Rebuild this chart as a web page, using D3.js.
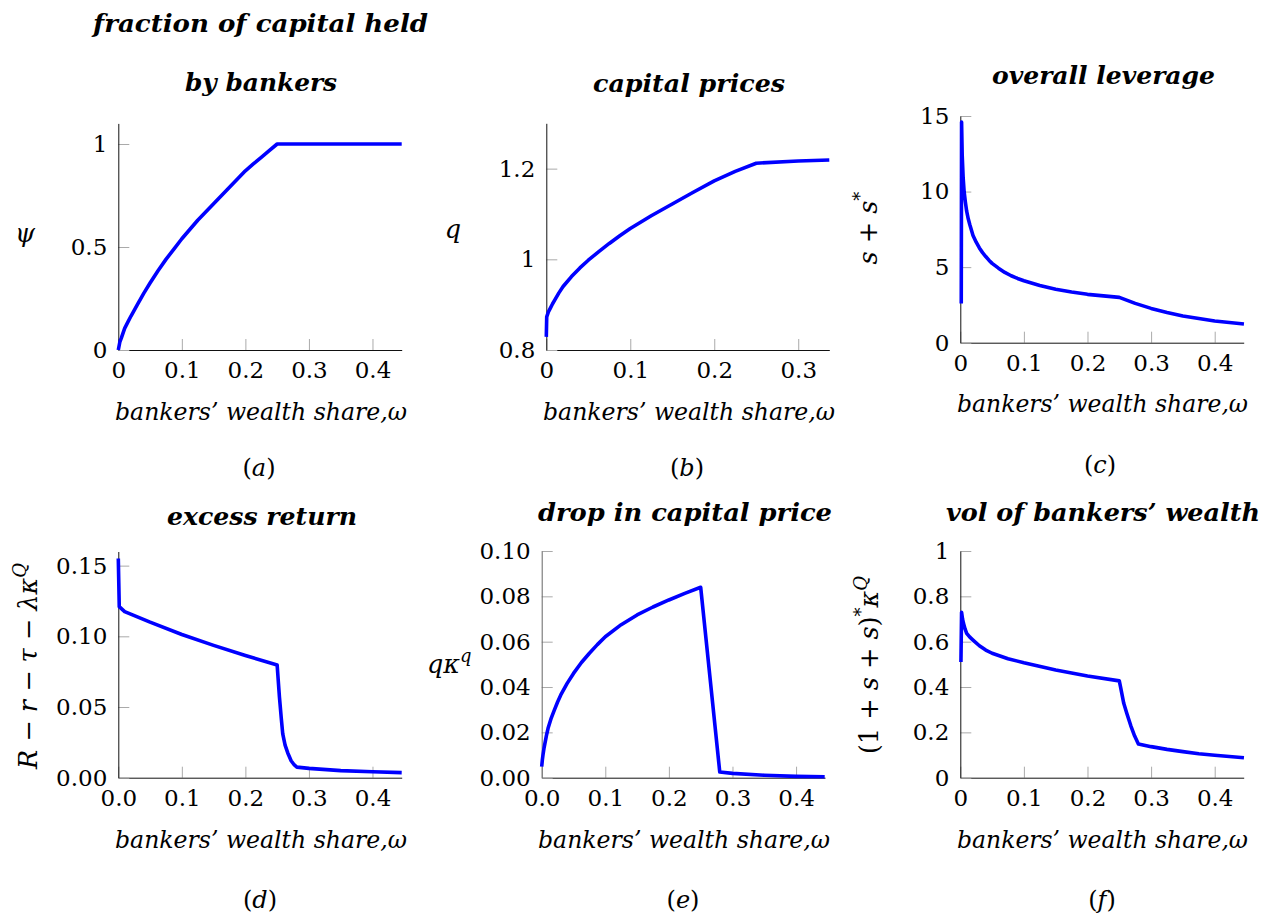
<!DOCTYPE html>
<html><head><meta charset="utf-8">
<script src="https://cdn.jsdelivr.net/npm/d3@7/dist/d3.min.js"></script>
<style>body{margin:0;background:#fff} svg{display:block}</style>
</head><body>
<svg id="chart" width="1266" height="915"></svg>
<script>
// ---------------- data ----------------
// (a) fraction of capital held by bankers
const psiOmega  = [0, 0.0025, 0.005, 0.01, 0.015, 0.02, 0.03, 0.04, 0.05, 0.0625, 0.075, 0.0875, 0.1, 0.1125, 0.125, 0.1375, 0.15, 0.1625, 0.175, 0.1875, 0.2, 0.2125, 0.225, 0.2375, 0.25, 0.446];
const psiValues = [0, 0.04, 0.06, 0.105, 0.135, 0.165, 0.22, 0.275, 0.325, 0.385, 0.44, 0.49, 0.54, 0.585, 0.63, 0.67, 0.71, 0.75, 0.79, 0.83, 0.87, 0.903, 0.935, 0.968, 1, 1];

// (b) capital prices
const qOmega  = [0, 0.0005, 0.0025, 0.005, 0.0075, 0.01, 0.015, 0.02, 0.03, 0.04, 0.05, 0.0625, 0.075, 0.0875, 0.1, 0.125, 0.15, 0.175, 0.2, 0.225, 0.25, 0.3, 0.337];
const qValues = [0.829, 0.873, 0.884, 0.893, 0.902, 0.91, 0.926, 0.94, 0.962, 0.981, 0.998, 1.017, 1.035, 1.052, 1.068, 1.096, 1.122, 1.148, 1.173, 1.194, 1.212, 1.217, 1.219];

// (c) overall leverage
const levOmega  = [0.0015, 0.002, 0.003, 0.0045, 0.006, 0.008, 0.01, 0.0125, 0.015, 0.02, 0.025, 0.03, 0.035, 0.04, 0.045, 0.05, 0.06, 0.07, 0.08, 0.09, 0.1, 0.125, 0.15, 0.175, 0.2, 0.225, 0.25, 0.275, 0.3, 0.325, 0.35, 0.375, 0.4, 0.446];
const levValues = [2.6, 14.6, 12.4, 10.9, 10.0, 9.3, 8.7, 8.2, 7.8, 7.1, 6.65, 6.27, 5.96, 5.7, 5.46, 5.25, 4.93, 4.65, 4.43, 4.25, 4.1, 3.78, 3.53, 3.35, 3.2, 3.1, 3.0, 2.6, 2.27, 2.0, 1.77, 1.6, 1.44, 1.24];

// (d) excess return
const exOmega  = [0, 0.0015, 0.01, 0.05, 0.1, 0.15, 0.2, 0.25, 0.2515, 0.2536, 0.2565, 0.2588, 0.2625, 0.2667, 0.272, 0.277, 0.281, 0.3, 0.35, 0.4, 0.446];
const exValues = [0.155, 0.121, 0.1175, 0.110, 0.1013, 0.0936, 0.0864, 0.0797, 0.070, 0.057, 0.042, 0.031, 0.023, 0.0175, 0.012, 0.009, 0.0075, 0.0066, 0.005, 0.0042, 0.0036];

// (e) drop in capital price
const dropOmega  = [0, 0.001, 0.002, 0.0035, 0.005, 0.0075, 0.01, 0.015, 0.02, 0.025, 0.03, 0.04, 0.05, 0.0625, 0.075, 0.0875, 0.1, 0.125, 0.15, 0.175, 0.2, 0.225, 0.25, 0.28, 0.3, 0.35, 0.4, 0.445];
const dropValues = [0.0049, 0.0078, 0.010, 0.0128, 0.015, 0.0187, 0.0218, 0.0263, 0.0299, 0.0334, 0.0365, 0.0416, 0.046, 0.0508, 0.0549, 0.0587, 0.0622, 0.0675, 0.0718, 0.0753, 0.0784, 0.0813, 0.084, 0.0025, 0.0019, 0.0011, 0.0006, 0.0004];

// (f) vol of bankers' wealth
const volOmega  = [0.001, 0.002, 0.0035, 0.005, 0.0075, 0.01, 0.015, 0.02, 0.03, 0.04, 0.05, 0.075, 0.1, 0.15, 0.2, 0.25, 0.252, 0.257, 0.262, 0.268, 0.274, 0.28, 0.3, 0.325, 0.35, 0.375, 0.4, 0.446];
const volValues = [0.51, 0.73, 0.70, 0.681, 0.656, 0.637, 0.62, 0.607, 0.582, 0.563, 0.549, 0.525, 0.507, 0.475, 0.449, 0.427, 0.40, 0.328, 0.282, 0.23, 0.185, 0.149, 0.137, 0.125, 0.115, 0.106, 0.099, 0.088];

// tick values / labels
const omegaTicks       = [0, 0.1, 0.2, 0.3, 0.4];
const omegaTickLabels  = ["0", "0.1", "0.2", "0.3", "0.4"];
const omegaTickLabels1 = ["0.0", "0.1", "0.2", "0.3", "0.4"];
const omegaTicksB      = [0, 0.1, 0.2, 0.3];
const omegaTickLabelsB = ["0", "0.1", "0.2", "0.3"];
const psiTicks   = [0, 0.5, 1];        const psiTickLabels  = ["0", "0.5", "1"];
const qTicks     = [0.8, 1, 1.2];      const qTickLabels    = ["0.8", "1", "1.2"];
const levTicks   = [0, 5, 10, 15];     const levTickLabels  = ["0", "5", "10", "15"];
const exTicks    = [0, 0.05, 0.10, 0.15]; const exTickLabels = ["0.00", "0.05", "0.10", "0.15"];
const dropTicks  = [0, 0.02, 0.04, 0.06, 0.08, 0.10];
const dropTickLabels = ["0.00", "0.02", "0.04", "0.06", "0.08", "0.10"];
const volTicks   = [0, 0.2, 0.4, 0.6, 0.8, 1];
const volTickLabels = ["0", "0.2", "0.4", "0.6", "0.8", "1"];

const titles = [["fraction of capital held", "by bankers"], ["capital prices"], ["overall leverage"],
                ["excess return"], ["drop in capital price"], ["vol of bankers’ wealth"]];
const subLetters = ["a", "b", "c", "d", "e", "f"];
const xLabel = "bankers’ wealth share,ω";

// ---------------- layout ----------------
const SERIF = "DejaVu Serif, serif";
const FS = 23;      // tick labels
const FM = 25.5;    // math axis labels
const FT = 24;      // titles, axis labels
const svg = d3.select("#chart");

const panels = [
  { om: psiOmega, val: psiValues, xr: [118.3, 401.7], yr: [350, 123.4], xd: [0, 0.446], yd: [0, 1.1],
    xt: omegaTicks, xl: omegaTickLabels, yt: psiTicks, yl: psiTickLabels,
    titles: [[93, 335, 32], [185, 152, 91]], xlab: [115, 292, 420], sub: [259, 476],
    ylab: {kind: "plain", x: 25, y: 242, parts: [["ψ", 1]]} },
  { om: qOmega, val: qValues, xr: [546.3, 829.3], yr: [350, 123.3], xd: [0, 0.337], yd: [0.8, 1.3],
    xt: omegaTicksB, xl: omegaTickLabelsB, yt: qTicks, yl: qTickLabels,
    titles: [[593, 192, 92]], xlab: [543, 292, 420], sub: [687, 476],
    ylab: {kind: "plain", x: 453, y: 238, parts: [["q", 1]]} },
  { om: levOmega, val: levValues, xr: [960.3, 1243.7], yr: [342.7, 116], xd: [0, 0.4456], yd: [0, 15],
    xt: omegaTicks, xl: omegaTickLabels, yt: levTicks, yl: levTickLabels,
    titles: [[992, 223, 84]], xlab: [957, 291, 412], sub: [1100, 473],
    ylab: {kind: "rot", x: 877, y: 228, parts: [["s", 1], [" + ", 0], ["s", 1], ["*", 0, 1]]} },
  { om: exOmega, val: exValues, xr: [118.3, 401.7], yr: [777.7, 551.5], xd: [0, 0.446], yd: [0, 0.16],
    xt: omegaTicks, xl: omegaTickLabels1, yt: exTicks, yl: exTickLabels,
    titles: [[167, 190, 525]], xlab: [115, 292, 848], sub: [260, 908],
    ylab: {kind: "rot", x: 37, y: 666, parts: [["R", 1], [" − ", 0], ["r", 1], [" − ", 0], ["τ", 1], [" − ", 0], ["λκ", 1], ["Q", 1, 1]]} },
  { om: dropOmega, val: dropValues, xr: [541.7, 825], xd: [0, 0.4455], yr: [777.7, 551], yd: [0, 0.1],
    xt: omegaTicks, xl: omegaTickLabels1, yt: dropTicks, yl: dropTickLabels, yAxisColor: "#666",
    titles: [[538, 294, 521]], xlab: [538, 292, 848], sub: [683, 908],
    ylab: {kind: "plainStart", x: 427, y: 673, parts: [["qκ", 1], ["q", 1, 1]]} },
  { om: volOmega, val: volValues, xr: [960.3, 1243.7], yr: [777.7, 551], xd: [0, 0.4456], yd: [0, 1],
    xt: omegaTicks, xl: omegaTickLabels, yt: volTicks, yl: volTickLabels,
    titles: [[946, 314, 521]], xlab: [957, 291, 848], sub: [1102, 908],
    ylab: {kind: "rot", x: 878, y: 665, parts: [["(1 + ", 0], ["s", 1], [" + ", 0], ["s", 1], [")", 0], ["*", 0, 1], ["κ", 1], ["Q", 1, 1]]} }
];

function addParts(textSel, parts) {
  let raised = false;
  parts.forEach(([t, it, sup]) => {
    const ts = textSel.append("tspan").text(t).attr("font-style", it ? "italic" : "normal");
    if (sup && !raised) { ts.attr("dy", -11).attr("font-size", 18); raised = true; }
    else if (sup) { ts.attr("font-size", 18); }
    else if (raised) { ts.attr("dy", 11); raised = false; }
  });
}

panels.forEach((p, i) => {
  const x = d3.scaleLinear().domain(p.xd).range(p.xr);
  const y = d3.scaleLinear().domain(p.yd).range(p.yr);
  const g = svg.append("g");

  const xAxis = d3.axisBottom(x).tickValues(p.xt).tickFormat((d, k) => p.xl[k])
    .tickSizeInner(-11).tickSizeOuter(0).tickPadding(12);
  const yAxis = d3.axisLeft(y).tickValues(p.yt).tickFormat((d, k) => p.yl[k])
    .tickSizeInner(-11).tickSizeOuter(0).tickPadding(11);

  const gx = g.append("g").attr("transform", `translate(0,${y.range()[0]})`).call(xAxis);
  const gy = g.append("g").attr("transform", `translate(${x.range()[0]},0)`).call(yAxis);
  [gx, gy].forEach(ax => {
    ax.attr("font-family", SERIF).attr("font-size", FS);
    ax.selectAll(".tick line").attr("stroke", "#aaa").attr("stroke-width", 1);
    ax.selectAll(".tick text").attr("font-family", SERIF).attr("font-size", FS).attr("fill", "#000");
  });
  gx.select(".domain").attr("stroke", "#111").attr("stroke-width", 1).raise();
  gy.select(".domain").attr("stroke", p.yAxisColor || "#111").attr("stroke-width", 1).raise();
  gy.raise();

  // curve
  const pts = p.om.map((o, k) => [o, p.val[k]]);
  g.append("path").datum(pts)
    .attr("fill", "none").attr("stroke", "#0000ff").attr("stroke-width", 3.6)
    .attr("stroke-linejoin", "round").attr("stroke-linecap", "butt")
    .attr("d", d3.line().x(d => x(d[0])).y(d => y(d[1])));

  // titles
  p.titles.forEach((t, k) => {
    g.append("text").attr("x", t[0]).attr("y", t[2]).attr("textLength", t[1])
      .attr("lengthAdjust", "spacingAndGlyphs")
      .attr("font-family", SERIF).attr("font-size", FT).attr("font-weight", "bold").attr("font-style", "italic")
      .text(titles[i][k]);
  });

  // x label (single text run)
  g.append("text").attr("x", p.xlab[0]).attr("y", p.xlab[2]).attr("textLength", p.xlab[1])
    .attr("lengthAdjust", "spacingAndGlyphs")
    .attr("font-family", SERIF).attr("font-size", FT).attr("font-style", "italic")
    .text(xLabel);

  // y label
  const yl = p.ylab;
  const yt = g.append("text").attr("font-family", SERIF).attr("font-size", FM).attr("fill", "#000");
  if (yl.kind === "rot") {
    yt.attr("transform", `translate(${yl.x},${yl.y}) rotate(-90)`).attr("text-anchor", "middle");
  } else if (yl.kind === "plain") {
    yt.attr("x", yl.x).attr("y", yl.y).attr("text-anchor", "middle");
  } else {
    yt.attr("x", yl.x).attr("y", yl.y).attr("text-anchor", "start");
  }
  addParts(yt, yl.parts);

  // subcaption
  const sc = g.append("text").attr("x", p.sub[0]).attr("y", p.sub[1]).attr("text-anchor", "middle")
    .attr("font-family", SERIF).attr("font-size", FT);
  sc.append("tspan").text("(");
  sc.append("tspan").attr("font-style", "italic").text(subLetters[i]);
  sc.append("tspan").text(")");
});
</script>
</body></html>
